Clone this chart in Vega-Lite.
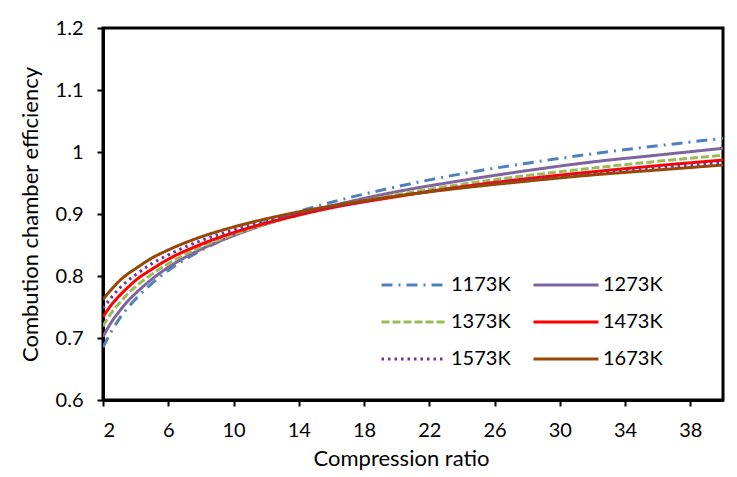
{
  "$schema": "https://vega.github.io/schema/vega-lite/v6.json",
  "width": 620,
  "height": 372,
  "autosize": {"type": "none"},
  "padding": {"left": 103, "top": 28, "right": 14, "bottom": 77},
  "background": "white",
  "config": {
    "font": "Lato",
    "view": {"stroke": "black", "strokeWidth": 3},
    "axis": {
      "domainColor": "black", "domainWidth": 3,
      "tickColor": "black", "tickWidth": 2, "tickSize": 6,
      "labelColor": "black", "labelFontSize": 20, "labelFont": "Lato",
      "titleColor": "black", "titleFontSize": 22, "titleFont": "Lato", "titleFontWeight": "normal",
      "grid": false
    }
  },
  "data": {
    "values": [
      {"cr": 2, "temp": "1173K", "eff": 0.685}, {"cr": 2.5, "temp": "1173K", "eff": 0.710}, {"cr": 3, "temp": "1173K", "eff": 0.731}, {"cr": 3.5, "temp": "1173K", "eff": 0.748}, {"cr": 4, "temp": "1173K", "eff": 0.763}, {"cr": 5, "temp": "1173K", "eff": 0.788}, {"cr": 6, "temp": "1173K", "eff": 0.809}, {"cr": 8, "temp": "1173K", "eff": 0.841}, {"cr": 10, "temp": "1173K", "eff": 0.866}, {"cr": 13, "temp": "1173K", "eff": 0.896}, {"cr": 16, "temp": "1173K", "eff": 0.919}, {"cr": 20, "temp": "1173K", "eff": 0.944}, {"cr": 24, "temp": "1173K", "eff": 0.965}, {"cr": 28, "temp": "1173K", "eff": 0.982}, {"cr": 32, "temp": "1173K", "eff": 0.997}, {"cr": 36, "temp": "1173K", "eff": 1.010}, {"cr": 40, "temp": "1173K", "eff": 1.022},
      {"cr": 2, "temp": "1273K", "eff": 0.702}, {"cr": 2.5, "temp": "1273K", "eff": 0.725}, {"cr": 3, "temp": "1273K", "eff": 0.743}, {"cr": 3.5, "temp": "1273K", "eff": 0.759}, {"cr": 4, "temp": "1273K", "eff": 0.772}, {"cr": 5, "temp": "1273K", "eff": 0.795}, {"cr": 6, "temp": "1273K", "eff": 0.814}, {"cr": 8, "temp": "1273K", "eff": 0.843}, {"cr": 10, "temp": "1273K", "eff": 0.865}, {"cr": 13, "temp": "1273K", "eff": 0.892}, {"cr": 16, "temp": "1273K", "eff": 0.913}, {"cr": 20, "temp": "1273K", "eff": 0.936}, {"cr": 24, "temp": "1273K", "eff": 0.954}, {"cr": 28, "temp": "1273K", "eff": 0.970}, {"cr": 32, "temp": "1273K", "eff": 0.984}, {"cr": 36, "temp": "1273K", "eff": 0.995}, {"cr": 40, "temp": "1273K", "eff": 1.006},
      {"cr": 2, "temp": "1373K", "eff": 0.719}, {"cr": 2.5, "temp": "1373K", "eff": 0.740}, {"cr": 3, "temp": "1373K", "eff": 0.756}, {"cr": 3.5, "temp": "1373K", "eff": 0.771}, {"cr": 4, "temp": "1373K", "eff": 0.783}, {"cr": 5, "temp": "1373K", "eff": 0.803}, {"cr": 6, "temp": "1373K", "eff": 0.820}, {"cr": 8, "temp": "1373K", "eff": 0.847}, {"cr": 10, "temp": "1373K", "eff": 0.867}, {"cr": 13, "temp": "1373K", "eff": 0.891}, {"cr": 16, "temp": "1373K", "eff": 0.911}, {"cr": 20, "temp": "1373K", "eff": 0.931}, {"cr": 24, "temp": "1373K", "eff": 0.948}, {"cr": 28, "temp": "1373K", "eff": 0.962}, {"cr": 32, "temp": "1373K", "eff": 0.974}, {"cr": 36, "temp": "1373K", "eff": 0.985}, {"cr": 40, "temp": "1373K", "eff": 0.995},
      {"cr": 2, "temp": "1473K", "eff": 0.734}, {"cr": 2.5, "temp": "1473K", "eff": 0.753}, {"cr": 3, "temp": "1473K", "eff": 0.768}, {"cr": 3.5, "temp": "1473K", "eff": 0.781}, {"cr": 4, "temp": "1473K", "eff": 0.793}, {"cr": 5, "temp": "1473K", "eff": 0.811}, {"cr": 6, "temp": "1473K", "eff": 0.827}, {"cr": 8, "temp": "1473K", "eff": 0.851}, {"cr": 10, "temp": "1473K", "eff": 0.870}, {"cr": 13, "temp": "1473K", "eff": 0.892}, {"cr": 16, "temp": "1473K", "eff": 0.910}, {"cr": 20, "temp": "1473K", "eff": 0.928}, {"cr": 24, "temp": "1473K", "eff": 0.944}, {"cr": 28, "temp": "1473K", "eff": 0.957}, {"cr": 32, "temp": "1473K", "eff": 0.968}, {"cr": 36, "temp": "1473K", "eff": 0.978}, {"cr": 40, "temp": "1473K", "eff": 0.987},
      {"cr": 2, "temp": "1573K", "eff": 0.748}, {"cr": 2.5, "temp": "1573K", "eff": 0.765}, {"cr": 3, "temp": "1573K", "eff": 0.780}, {"cr": 3.5, "temp": "1573K", "eff": 0.792}, {"cr": 4, "temp": "1573K", "eff": 0.802}, {"cr": 5, "temp": "1573K", "eff": 0.820}, {"cr": 6, "temp": "1573K", "eff": 0.834}, {"cr": 8, "temp": "1573K", "eff": 0.857}, {"cr": 10, "temp": "1573K", "eff": 0.874}, {"cr": 13, "temp": "1573K", "eff": 0.895}, {"cr": 16, "temp": "1573K", "eff": 0.911}, {"cr": 20, "temp": "1573K", "eff": 0.929}, {"cr": 24, "temp": "1573K", "eff": 0.943}, {"cr": 28, "temp": "1573K", "eff": 0.955}, {"cr": 32, "temp": "1573K", "eff": 0.965}, {"cr": 36, "temp": "1573K", "eff": 0.975}, {"cr": 40, "temp": "1573K", "eff": 0.983},
      {"cr": 2, "temp": "1673K", "eff": 0.762}, {"cr": 2.5, "temp": "1673K", "eff": 0.778}, {"cr": 3, "temp": "1673K", "eff": 0.792}, {"cr": 3.5, "temp": "1673K", "eff": 0.803}, {"cr": 4, "temp": "1673K", "eff": 0.812}, {"cr": 5, "temp": "1673K", "eff": 0.829}, {"cr": 6, "temp": "1673K", "eff": 0.842}, {"cr": 8, "temp": "1673K", "eff": 0.863}, {"cr": 10, "temp": "1673K", "eff": 0.879}, {"cr": 13, "temp": "1673K", "eff": 0.898}, {"cr": 16, "temp": "1673K", "eff": 0.913}, {"cr": 20, "temp": "1673K", "eff": 0.929}, {"cr": 24, "temp": "1673K", "eff": 0.942}, {"cr": 28, "temp": "1673K", "eff": 0.953}, {"cr": 32, "temp": "1673K", "eff": 0.963}, {"cr": 36, "temp": "1673K", "eff": 0.971}, {"cr": 40, "temp": "1673K", "eff": 0.979}
    ]
  },
  "mark": {"type": "line", "strokeWidth": 3, "interpolate": "monotone", "clip": true},
  "encoding": {
    "x": {
      "field": "cr", "type": "quantitative",
      "scale": {"domain": [2, 40], "nice": false, "zero": false},
      "axis": {"title": "Compression ratio", "values": [2, 6, 10, 14, 18, 22, 26, 30, 34, 38], "labelPadding": 14, "titlePadding": 8, "titleX": 298}
    },
    "y": {
      "field": "eff", "type": "quantitative",
      "scale": {"domain": [0.6, 1.2], "nice": false, "zero": false},
      "axis": {"title": "Combution chamber efficiency", "values": [0.6, 0.7, 0.8, 0.9, 1.0, 1.1, 1.2], "labelPadding": 14, "titlePadding": 13, "labelExpr": "datum.value == 1 ? '1' : format(datum.value, '.1f')"}
    },
    "color": {
      "field": "temp", "type": "nominal",
      "scale": {
        "domain": ["1173K", "1273K", "1373K", "1473K", "1573K", "1673K"],
        "range": ["#4F81BD", "#8064A2", "#9BBB59", "#FF0000", "#7030A0", "#974806"]
      },
      "legend": {
        "title": null, "orient": "none", "legendX": 277, "legendY": 247, "columns": 2,
        "values": ["1173K", "1373K", "1573K", "1273K", "1473K", "1673K"],
        "symbolType": "stroke", "symbolSize": 4225, "symbolStrokeWidth": 3,
        "labelFontSize": 20, "labelColor": "black", "labelOffset": 3,
        "columnPadding": 21, "rowPadding": 17, "clipHeight": 20, "padding": 0
      }
    },
    "strokeDash": {
      "field": "temp", "type": "nominal",
      "scale": {
        "domain": ["1173K", "1273K", "1373K", "1473K", "1573K", "1673K"],
        "range": [[11, 6, 2, 6], [1, 0], [8, 3], [1, 0], [2.5, 4], [1, 0]]
      },
      "legend": {
        "title": null, "orient": "none", "legendX": 277, "legendY": 247, "columns": 2,
        "values": ["1173K", "1373K", "1573K", "1273K", "1473K", "1673K"],
        "symbolType": "stroke", "symbolSize": 4225, "symbolStrokeWidth": 3,
        "labelFontSize": 20, "labelColor": "black", "labelOffset": 3,
        "columnPadding": 21, "rowPadding": 17, "clipHeight": 20, "padding": 0
      }
    }
  }
}
